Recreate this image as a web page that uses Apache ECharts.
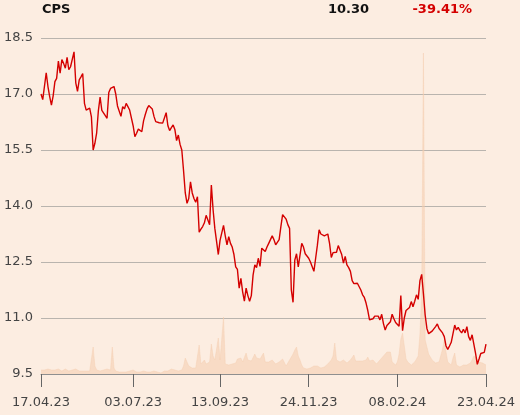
<!DOCTYPE html>
<html>
<head>
<meta charset="utf-8">
<script src="https://cdn.jsdelivr.net/npm/echarts@6/dist/echarts.min.js"></script>
<style>
html,body{margin:0;padding:0;background:#fcede1;}
#chart{width:520px;height:415px;}
</style>
</head>
<body>
<div id="chart"></div>
<script>
const ticker = 'CPS';
const lastPrice = '10.30';
const changePct = '-39.41%';

const tickIndex = [0, 53, 103, 154, 205, 256];
const tickLabels = ['17.04.23', '03.07.23', '13.09.23', '24.11.23', '08.02.24', '23.04.24'];

const yTicks = [9.5, 11.0, 12.5, 14.0, 15.5, 17.0, 18.5];

const price = [
17.0,16.85,16.9,17.57,17.2,16.93,16.7,16.95,17.33,17.42,
17.88,17.56,17.92,17.82,17.69,17.98,17.65,17.73,17.76,18.13,
17.3,17.07,17.38,17.46,17.55,16.75,16.57,16.62,16.62,16.39,
15.5,15.68,15.95,16.55,16.92,16.56,16.52,16.42,16.35,17.04,
17.15,17.12,17.2,17.0,16.68,16.72,16.4,16.66,16.6,16.75,
16.66,16.57,16.55,16.15,15.86,15.95,16.06,16.02,15.99,16.28,
16.45,16.6,16.69,16.68,16.6,16.4,16.26,16.24,16.23,16.24,
16.22,16.17,16.5,16.15,16.02,16.1,16.17,16.05,15.75,15.9,
15.65,15.5,14.95,14.35,14.07,14.2,14.65,14.35,14.2,14.1,
14.25,13.3,13.38,13.45,13.55,13.75,13.72,13.5,14.56,13.9,
13.4,13.05,12.7,13.08,13.12,13.48,13.2,12.96,13.18,13.0,
12.9,12.7,12.37,12.3,11.8,12.06,11.7,11.45,11.8,11.6,
11.45,11.6,12.15,12.42,12.35,12.6,12.38,12.87,12.84,12.78,
12.9,13.0,13.0,13.2,13.1,12.96,12.97,13.1,13.45,13.77,
13.78,13.65,13.5,13.4,11.75,11.42,12.55,12.72,12.37,12.4,
13.0,12.9,12.72,12.66,12.6,12.5,12.45,12.25,12.6,12.95,
13.36,13.25,13.22,13.2,13.2,13.25,13.0,12.62,12.75,12.8,
12.76,12.94,12.9,12.7,12.47,12.65,12.42,12.35,12.25,12.0,
11.92,11.95,11.93,11.88,11.75,11.62,11.55,11.4,11.2,10.95,
11.0,10.98,11.05,11.02,11.05,10.95,11.1,10.85,10.68,10.8,
10.75,10.9,11.1,10.98,10.88,10.9,10.78,11.6,10.66,11.0,
11.2,11.18,11.28,11.44,11.3,11.45,11.62,11.5,12.0,12.17,
11.65,11.08,10.72,10.58,10.6,10.65,10.68,10.77,10.84,10.72,
10.68,10.6,10.5,10.25,10.16,10.25,10.35,10.3,10.81,10.68,
10.75,10.66,10.6,10.7,10.6,10.77,10.5,10.4,10.55,10.3,
10.05,9.76,9.9,10.05,10.05,10.08,10.3
];

const volume = [
4,5,4,6,5,4,4,5,4,3,
5,4,3,4,5,4,3,4,4,3,
5,4,3,4,3,4,3,4,3,5,
27,8,4,4,3,4,4,4,5,5,
4,27,6,3,2,2,2,2,3,2,
2,3,3,4,3,2,2,2,3,3,
3,2,2,2,2,3,3,2,2,1,
2,3,2,3,4,5,5,4,4,3,
3,4,8,16,12,8,6,6,7,6,
8,29,10,12,14,10,9,12,30,18,
14,12,36,14,14,57,10,9,9,9,
10,12,11,15,13,16,12,14,21,14,
12,13,15,20,16,14,15,18,21,12,
10,12,13,14,12,10,11,12,14,15,
17,8,10,14,17,20,24,27,18,14,
9,6,5,5,6,6,7,8,9,8,
7,6,6,7,9,10,11,14,18,31,
14,12,12,13,14,12,11,13,14,16,
19,13,11,13,14,13,12,14,17,13,
12,14,15,10,9,14,16,18,20,22,
20,22,12,10,9,12,20,35,41,28,
15,12,10,9,10,12,13,18,40,80,
321,34,27,20,17,14,12,11,13,12,
14,25,34,22,12,10,9,16,21,9,
8,7,8,9,8,9,10,11,14,18,
20,15,12,10,11,9,9
];

const categories = price.map((_, i) => i);
const labelAt = {};
tickIndex.forEach((idx, k) => { labelAt[idx] = tickLabels[k]; });

const chart = echarts.init(document.getElementById('chart'), null, {renderer: 'canvas'});
const font = 'DejaVu Sans';

chart.setOption({
  backgroundColor: '#fcede1',
  animation: false,
  textStyle: {fontFamily: font},
  grid: {left: 41, right: 34, top: 38, bottom: 41, containLabel: false},
  graphic: [
    {type: 'text', left: 42, top: 3, style: {text: ticker, font: 'bold 13px "DejaVu Sans"', fill: '#111'}},
    {type: 'text', right: 151, top: 3, style: {text: lastPrice, font: 'bold 13px "DejaVu Sans"', fill: '#111', textAlign: 'right'}},
    {type: 'text', right: 48, top: 3, style: {text: changePct, font: 'bold 13px "DejaVu Sans"', fill: '#d40000', textAlign: 'right'}}
  ],
  xAxis: {
    type: 'category',
    data: categories,
    boundaryGap: false,
    axisLine: {show: true, lineStyle: {color: '#8f8f8f', width: 1}},
    axisTick: {show: true, length: 13, lineStyle: {color: '#666'}, interval: (i) => labelAt[i] !== undefined},
    axisLabel: {
      show: true, interval: (i) => labelAt[i] !== undefined,
      formatter: (v) => labelAt[v] || '',
      color: '#444', fontSize: 13, fontFamily: font, margin: 22
    },
    splitLine: {show: false}
  },
  yAxis: [
    {
      type: 'value', min: yTicks[0], max: yTicks[yTicks.length - 1], interval: 1.5,
      axisLine: {show: false}, axisTick: {show: false},
      axisLabel: {formatter: (v) => v.toFixed(1), color: '#444', fontSize: 13, fontFamily: font, margin: 8},
      splitLine: {show: true, lineStyle: {color: '#b9b4ae', width: 1}}
    },
    {
      type: 'value', min: 0, max: 336, show: false,
      splitLine: {show: false}
    }
  ],
  series: [
    {
      type: 'line', data: volume, yAxisIndex: 1, symbol: 'none', silent: true,
      lineStyle: {width: 0.5, color: 'rgba(245, 205, 175, 0.8)'},
      areaStyle: {color: 'rgba(245, 205, 175, 0.8)'},
      z: 1
    },
    {
      type: 'line', data: price, yAxisIndex: 0, symbol: 'none',
      lineStyle: {color: '#d40000', width: 1.4},
      z: 3
    }
  ]
});
</script>
</body>
</html>
